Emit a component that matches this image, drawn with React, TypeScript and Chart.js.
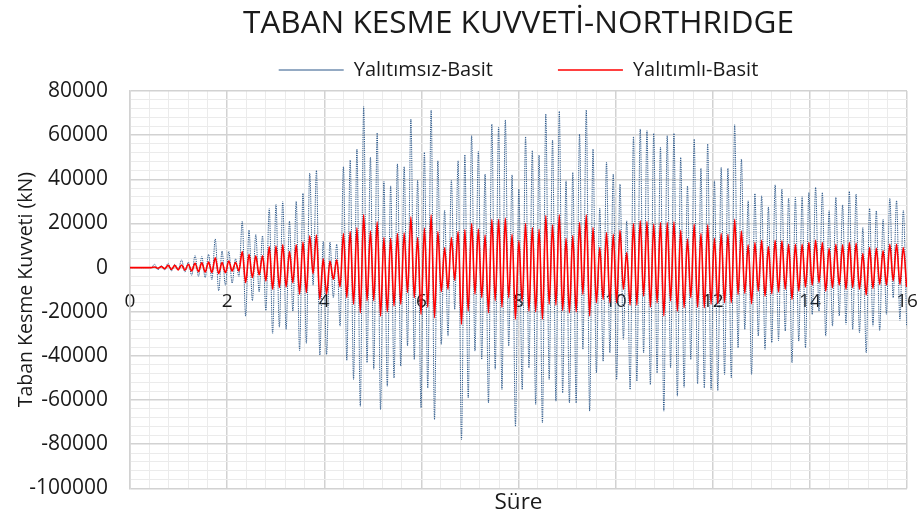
import { useEffect, useRef } from 'react';
import { Chart, registerables } from 'chart.js';

Chart.register(...registerables);

const TITLE = 'TABAN KESME KUVVETİ-NORTHRIDGE';
const X_TITLE = 'Süre';
const Y_TITLE = 'Taban Kesme Kuvveti (kN)';
const SERIES_NAMES = ['Yalıtımsız-Basit', 'Yalıtımlı-Basit'];

// Extrema of the response, sampled every half period of the ~7.2 Hz oscillation
const START_TIME = -0.0496; // s
const HALF_PERIOD = 0.06945; // s

const X_MIN = 0;
const X_MAX = 16;
const X_STEP = 0.4;
const X_LABEL_STEP = 2;
const Y_MIN = -100000;
const Y_MAX = 80000;
const Y_STEP = 4000;
const Y_LABEL_STEP = 20000;

// Yalıtımsız-Basit (kN): peak, trough, peak, trough ...
const UNISOLATED = [
  0, 0, 0, 0, 0, 0, 0, 0,
  1500, -1000, 800, -1000, 2000, -1500, 1500, -1000, 3500, -2000, 2500, -3500, 5500, -4000, 5000, -4500,
  6000, -5500, 13000, -10500, 7500, -8000, 7500, -7000, 4000, -4000, 21000, -22000, 17000, -15000, 15000, -11000,
  14400, -19400, 26800, -30000, 28700, -27000, 30000, -28000, 21000, -19700, 30000, -37500, 33700, -34300, 42800, -8000,
  44000, -39600, 12000, -39300, 11600, -13600, 10600, -26500, 45700, -42000, 48700, -50700, 53700, -62800, 72900, -43000,
  50000, -46000, 61000, -64300, 39000, -53700, 37000, -50000, 47000, -44600, 45700, -35500, 67300, -41600, 39600, -63500,
  52200, -54500, 71400, -68800, 48400, -34800, 26000, -31000, 39600, -18900, 48400, -77900, 51100, -59000, 59800, -37800,
  52600, -41600, 42400, -61300, 65000, -46000, 63500, -55200, 66900, -35500, 42000, -71900, 35600, -55200, 59300, -45400,
  53000, -62000, 51000, -70300, 69600, -50700, 57800, -60500, 70800, -56700, 39300, -61300, 43100, -61300, 60500, -37000,
  71400, -65000, 53700, -47700, 26900, -42400, 47700, -38600, 42400, -50700, 37800, -32500, 21200, -55200, 59300, -51400,
  62800, -38600, 62000, -53000, 60800, -47700, 54500, -65000, 59800, -45400, 60800, -58200, 49900, -54200, 37000, -41600,
  58200, -52600, 45000, -54500, 56000, -55200, 39300, -55700, 45400, -48400, 45000, -49900, 64700, -36300, 49200, -28000,
  30300, -48400, 33600, -31000, 32500, -37000, 27500, -34000, 37500, -33000, 35600, -28700, 31500, -43100, 31800, -33300,
  32100, -36300, 34000, -21200, 36300, -19700, 34000, -31000, 26000, -26500, 31800, -21900, 28400, -25700, 34500, -28000,
  33300, -29500, 18200, -38600, 26800, -26500, 25700, -28700, 21900, -21200, 31500, -13600, 30300, -23900, 26000, -26500,
];

// Yalıtımlı-Basit (kN): peak, trough, peak, trough ...
const ISOLATED = [
  0, 0, 0, 0, 0, 0, 0, 0,
  300, -300, 500, -500, 1000, -800, 1000, -1000, 1200, -1200, 1500, -1500, 2000, -1800, 2200, -2000,
  2500, -2200, 4500, -2700, 2300, -2300, 3000, -1500, 2300, -1500, 7300, -6800, 6000, -4500, 5300, -3300,
  5300, -6000, 9400, -9800, 9800, -9000, 10300, -8800, 7300, -6800, 10300, -12000, 11600, -11300, 14400, -2700,
  14800, -14400, 4000, -12000, 3000, -5300, 3500, -8800, 15400, -13600, 16300, -16600, 18000, -20400, 24000, -15000,
  16600, -15000, 20700, -22000, 13600, -20000, 13300, -17400, 15400, -16600, 15700, -11300, 23000, -13600, 13600, -21200,
  17900, -17900, 23900, -22700, 16300, -10900, 9000, -9800, 13600, -5700, 16300, -25700, 17200, -19700, 20000, -12000,
  17500, -13600, 14700, -20400, 21900, -15000, 21900, -18000, 22400, -13600, 15100, -23400, 12100, -15100, 20000, -19700,
  18200, -20000, 17400, -23400, 23600, -16600, 19400, -17000, 23900, -19400, 13300, -20400, 14500, -20000, 20400, -12100,
  23900, -21900, 18200, -15900, 9100, -14400, 15900, -15900, 15100, -15900, 16900, -9800, 6800, -17000, 20000, -17000,
  21200, -12900, 20900, -17900, 19700, -15900, 20400, -21900, 20400, -15100, 20700, -19700, 16900, -18200, 12900, -13600,
  19700, -17900, 15400, -18200, 19400, -16600, 13300, -16300, 15400, -15900, 15100, -15900, 21900, -12100, 16600, -11600,
  10300, -16300, 11300, -10600, 12400, -12900, 9500, -11800, 12400, -11000, 12100, -9800, 10600, -14400, 10600, -10600,
  10600, -8800, 11300, -7900, 12400, -6800, 11300, -10600, 8800, -9100, 10600, -7900, 10300, -9800, 11300, -9100,
  11000, -9800, 6400, -12400, 9100, -9400, 8800, -7600, 7600, -7900, 10600, -6000, 10600, -7600, 9100, -8800,
];

const FONT = '"Open Sans", Lato, sans-serif';
const TEXT_COLOR = '#1a1a1a';
const GRID_MAJOR = '#d2d2d2';
const GRID_MINOR = '#ebebeb';

// legend: wide horizontal gap between entries, compact vertically
const LEGEND_GAP = 65;
const LEGEND_FONT = 20;

const toPoints = (values: number[]) =>
  values.map((y, i) => ({ x: START_TIME + i * HALF_PERIOD, y }));

const isMultiple = (v: number, step: number) => {
  const r = v / step;
  return Math.abs(r - Math.round(r)) < 1e-6;
};

export default function App() {
  const ref = useRef<HTMLCanvasElement>(null);

  useEffect(() => {
    document.body.style.margin = '0';
    const canvas = ref.current;
    if (!canvas) return;
    const titleSize = 31.5;
    const titleTop = 5;
    // title box height shrunk so that the legend's large padding overlaps it
    const titleBottom = -(titleTop + titleSize * 1.2 + 5);
    const chart = new Chart(canvas, {
      type: 'line',
      data: {
        datasets: [
          {
            label: SERIES_NAMES[1],
            data: toPoints(ISOLATED),
            borderColor: '#ff0000',
            backgroundColor: '#ff0000',
            borderWidth: 1.6,
            pointRadius: 0,
            cubicInterpolationMode: 'monotone',
            order: 0,
          },
          {
            label: SERIES_NAMES[0],
            data: toPoints(UNISOLATED),
            borderColor: '#2a5688',
            backgroundColor: '#2a5688',
            borderWidth: 1,
            borderDash: [1.2, 1],
            pointRadius: 0,
            cubicInterpolationMode: 'monotone',
            order: 1,
          },
        ],
      },
      options: {
        responsive: false,
        animation: false,
        events: [],
        layout: { padding: { left: 0, right: 16, top: 0, bottom: 0 } },
        plugins: {
          title: {
            display: true,
            fullSize: false,
            text: TITLE,
            color: TEXT_COLOR,
            font: { family: FONT, size: titleSize, weight: 'normal' },
            padding: { top: titleTop, bottom: titleBottom },
          },
          subtitle: {
            display: true,
            fullSize: false,
            position: 'bottom',
            text: X_TITLE,
            color: TEXT_COLOR,
            font: { family: FONT, size: 22.5, weight: 'normal' },
            padding: { top: 6, bottom: 0 },
          },
          legend: {
            position: 'top',
            fullSize: false,
            reverse: true,
            maxHeight: 91,
            labels: {
              usePointStyle: true,
              pointStyleWidth: 65,
              pointStyle: 'line',
              color: TEXT_COLOR,
              font: { family: FONT, size: LEGEND_FONT },
              padding: LEGEND_GAP,
            },
          },
          tooltip: { enabled: false },
        },
        scales: {
          x: {
            type: 'linear',
            min: X_MIN,
            max: X_MAX,
            position: { y: 0 },
            ticks: {
              stepSize: X_STEP,
              autoSkip: false,
              maxRotation: 0,
              padding: 23,
              color: TEXT_COLOR,
              font: { family: FONT, size: 19 },
              callback: (v: any) => (isMultiple(Number(v), X_LABEL_STEP) ? String(Math.round(Number(v))) : ''),
            },
            grid: {
              drawTicks: false,
              color: (ctx: any) => (isMultiple(ctx.tick.value, X_LABEL_STEP) ? GRID_MAJOR : GRID_MINOR),
              lineWidth: (ctx: any) => (isMultiple(ctx.tick.value, X_LABEL_STEP) ? 1.5 : 1),
            },
            border: { color: GRID_MAJOR, width: 1.5 },
            afterFit: (s: any) => {
              s.height = 0;
              s.paddingLeft = 0;
              s.paddingRight = 0;
            },
          },
          y: {
            type: 'linear',
            min: Y_MIN,
            max: Y_MAX,
            ticks: {
              stepSize: Y_STEP,
              autoSkip: false,
              padding: 22,
              color: TEXT_COLOR,
              font: { family: FONT, size: 21 },
              callback: (v: any) => (isMultiple(Number(v), Y_LABEL_STEP) ? String(Math.round(Number(v))) : ''),
            },
            grid: {
              drawTicks: false,
              color: (ctx: any) => (isMultiple(ctx.tick.value, Y_LABEL_STEP) ? GRID_MAJOR : GRID_MINOR),
              lineWidth: (ctx: any) => (isMultiple(ctx.tick.value, Y_LABEL_STEP) ? 1.5 : 1),
            },
            border: { color: GRID_MAJOR, width: 1.5 },
            title: {
              display: true,
              text: Y_TITLE,
              color: TEXT_COLOR,
              font: { family: FONT, size: 19.5, weight: 'normal' },
              padding: { top: 15, bottom: 0 },
            },
            afterFit: (s: any) => {
              s.width = 130;
            },
          },
        },
      },
    });
    return () => chart.destroy();
  }, []);

  return (
    <div style={{ width: 923, height: 523 }}>
      <canvas ref={ref} width={923} height={523} />
    </div>
  );
}
